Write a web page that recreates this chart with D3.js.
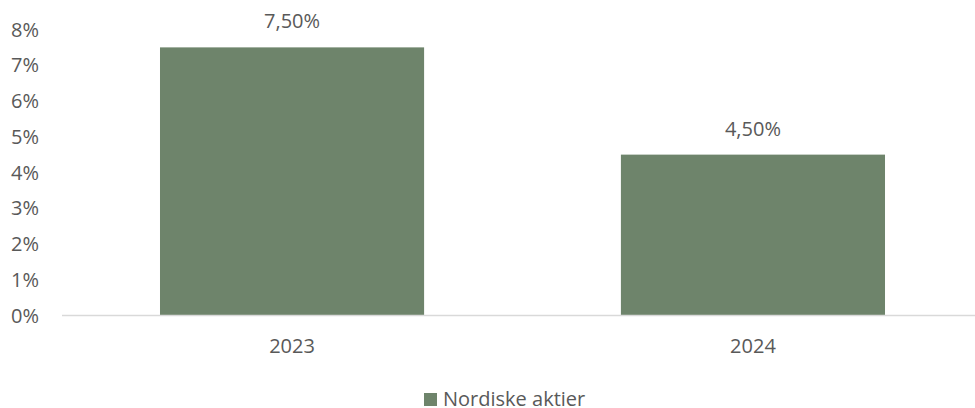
<!DOCTYPE html>
<html>
<head>
<meta charset="utf-8">
<script src="https://cdn.jsdelivr.net/npm/d3@7"></script>
<style>
  body { margin: 0; background: #fff; }
  text { font-family: "Open Sans", sans-serif; fill: #595959; }
</style>
</head>
<body>
<div id="chart"></div>
<script>
const years = ["2023", "2024"];
const values = [7.5, 4.5];
const yTicks = [0, 1, 2, 3, 4, 5, 6, 7, 8];
const seriesName = "Nordiske aktier";

const BAR_COLOR = "#6e846b";
const FONT_SIZE = "20px";
const width = 975, height = 408;
const plotLeft = 62, plotRight = 975, plotTop = 29.5, plotBottom = 315.5;

const svg = d3.select("#chart").append("svg")
  .attr("width", width)
  .attr("height", height);

// band step ~461px, bars ~264px wide
const x = d3.scaleBand()
  .domain(years)
  .range([plotLeft, 983])
  .paddingInner(0.427)
  .paddingOuter(0.2126);

const y = d3.scaleLinear().domain([0, 8]).range([plotBottom, plotTop]);

// y labels
svg.append("g")
  .selectAll("text")
  .data(yTicks)
  .join("text")
  .attr("x", 39)
  .attr("y", d => y(d))
  .attr("dy", "0.35em")
  .attr("text-anchor", "end")
  .attr("font-size", FONT_SIZE)
  .text(d => d + "%");

// bars
svg.append("g")
  .selectAll("rect")
  .data(values)
  .join("rect")
  .attr("x", (d, i) => x(years[i]))
  .attr("y", d => y(d))
  .attr("width", x.bandwidth())
  .attr("height", d => y(0) - y(d))
  .attr("fill", BAR_COLOR);

// axis line
svg.append("line")
  .attr("x1", plotLeft).attr("x2", plotRight)
  .attr("y1", plotBottom).attr("y2", plotBottom)
  .attr("stroke", "#d9d9d9")
  .attr("stroke-width", 1.5);

// x labels
svg.append("g")
  .selectAll("text")
  .data(years)
  .join("text")
  .attr("x", d => x(d) + x.bandwidth() / 2)
  .attr("y", 346)
  .attr("dy", "0.35em")
  .attr("text-anchor", "middle")
  .attr("font-size", FONT_SIZE)
  .text(d => d);

// value labels
svg.append("g")
  .selectAll("text")
  .data(values)
  .join("text")
  .attr("x", (d, i) => x(years[i]) + x.bandwidth() / 2)
  .attr("y", d => y(d) - 26)
  .attr("dy", "0.35em")
  .attr("text-anchor", "middle")
  .attr("font-size", FONT_SIZE)
  .text(d => d.toFixed(2).replace(".", ",") + "%");

// legend
const lg = svg.append("g");
lg.append("rect")
  .attr("x", 424).attr("y", 393)
  .attr("width", 13).attr("height", 13)
  .attr("fill", BAR_COLOR);
lg.append("text")
  .attr("x", 443).attr("y", 406)
  .attr("font-size", FONT_SIZE)
  .text(seriesName);
</script>
</body>
</html>
